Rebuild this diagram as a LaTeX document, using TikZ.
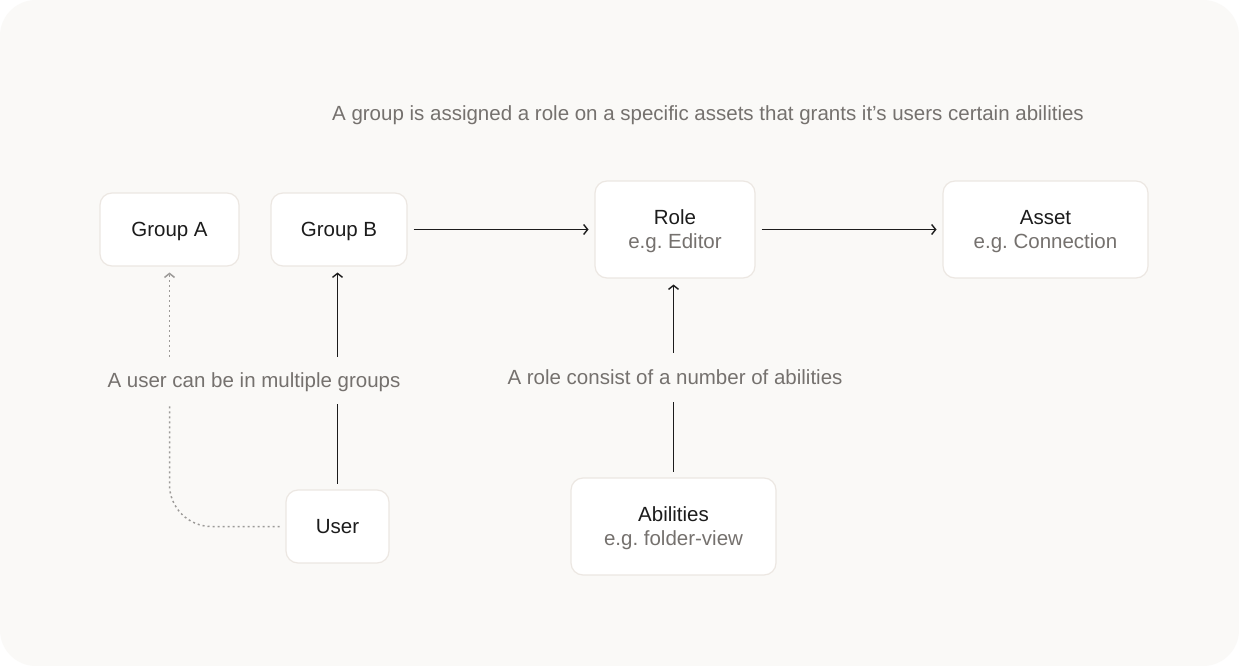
\documentclass[tikz,border=0pt]{standalone}
\usepackage{fontspec}
\setmainfont{Liberation Sans}
\frenchspacing
\usepackage{xcolor}
\definecolor{panel-white}{HTML}{FFFFFF}
\definecolor{panel-beige}{HTML}{FAF9F7}
\definecolor{panel-edge}{HTML}{ECE7E2}
\definecolor{panel-ink}{HTML}{1C1C1C}
\definecolor{panel-grey}{HTML}{75716E}
\definecolor{panel-dots}{HTML}{9C9A98}
\usepackage{tikz}
\usetikzlibrary{arrows.meta}

\tikzset{
    box/.style={draw=panel-edge, line width=1.2pt, fill=panel-white, rounded corners=12pt, text=panel-ink, align=center, font=\fontsize{20.5}{24}\selectfont, text depth=0pt, outer sep=6.5pt, minimum height=73pt},
    note/.style={text=panel-grey, font=\fontsize{20.5}{24}\selectfont, text depth=0pt, inner sep=0pt},
    wire/.style={draw=panel-ink, line width=1.4pt},
    link/.style={wire, -{Straight Barb[length=4pt, width=10pt]}},
    dots/.style={draw=panel-dots, line width=1.5pt, dash pattern=on 2pt off 3pt},
}

\begin{document}
\begin{tikzpicture}[x=1pt, y=-1pt]

    \useasboundingbox (0, 0) rectangle (1239, 666);
    \fill[panel-white] (0, 0) rectangle (1239, 666);
    \fill[panel-beige, rounded corners=36pt] (0, 0) rectangle (1239, 666);

    % Title
    \node[note] (title) at (708, 113) {A group is assigned a role on a specific assets that grants it’s users certain abilities};

    % Boxes
    \node[box, minimum width=139pt] (grpa) at (169.5, 229.5) {Group A};
    \node[box, minimum width=136pt] (grpb) at (339, 229.5) {Group B};
    \node[box, minimum width=160pt, minimum height=97pt] (role) at (675, 229.5) {Role\\{\color{panel-grey}e.g. Editor}};
    \node[box, minimum width=205pt, minimum height=97pt] (asset) at (1045.5, 229.5) {Asset\\{\color{panel-grey}e.g. Connection}};
    \node[box, minimum width=103pt] (user) at (337.5, 526.5) {User};
    \node[box, minimum width=205pt, minimum height=97pt] (abil) at (673.5, 526.5) {Abilities\\{\color{panel-grey}e.g. folder-view}};

    % Labels
    \node[note, minimum height=47pt] (lbluser) at (254, 380.5) {A user can be in multiple groups};
    \node[note, minimum height=49pt] (lblrole) at (675, 377.5) {A role consist of a number of abilities};

    % Role and asset
    \draw[link] (grpb.east) -- (role.west);
    \draw[link] (role.east) -- (asset.west);

    % User to groups
    \draw[wire] (user.north) -- (lbluser.south -| user.north);
    \draw[link] (lbluser.north -| user.north) -- (grpb.south -| user.north);
    \draw[dots, rounded corners=42pt] (user.west) -| (lbluser.south -| grpa.south);
    \draw[dots, -{Straight Barb[length=4pt, width=10pt]}] (lbluser.north -| grpa.south) -- (grpa.south);

    % Abilities to role
    \draw[wire] (abil.north) -- (lblrole.south -| abil.north);
    \draw[link] (lblrole.north -| abil.north) -- (role.south -| abil.north);

\end{tikzpicture}
\end{document}
